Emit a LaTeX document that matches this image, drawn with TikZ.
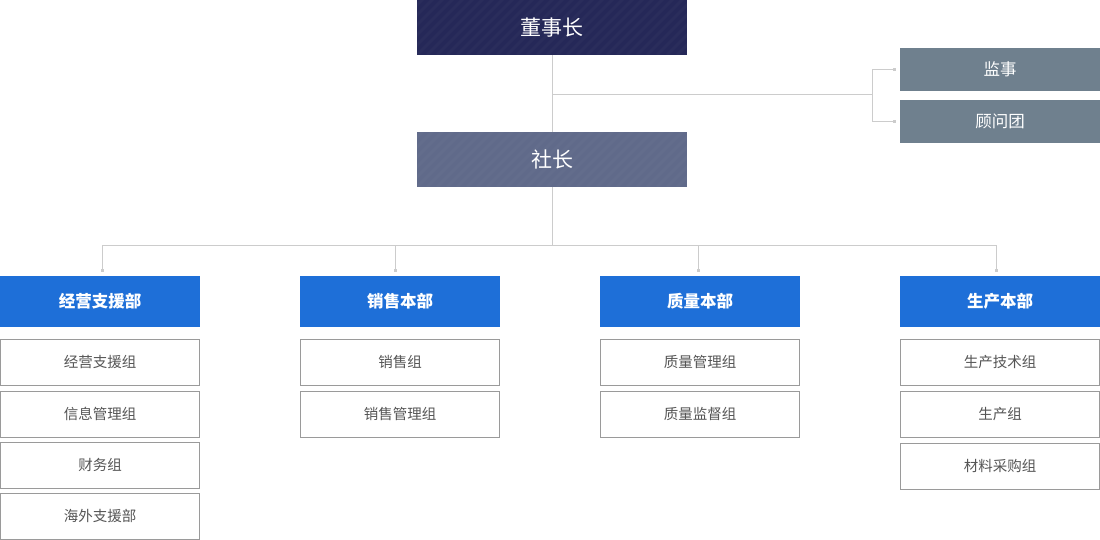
\documentclass[tikz,border=0pt]{standalone}
\usepackage{fontspec}
\setmainfont{Noto Sans CJK SC}
\usetikzlibrary{arrows.meta}
\definecolor{orgnavy}{HTML}{252858}
\definecolor{orgslate}{HTML}{606A8A}
\definecolor{orggrey}{HTML}{6F808E}
\definecolor{orgblue}{HTML}{1E6FD8}
\definecolor{orgline}{HTML}{CCCCCC}
\definecolor{orgedge}{HTML}{9A9A9A}
\definecolor{orgtext}{HTML}{555555}

\begin{document}
\begin{tikzpicture}[x=1pt,y=-1pt,
    topbox/.style={minimum width=270pt,minimum height=55pt,inner sep=0pt,text=white,
      font=\fontsize{21}{24}\selectfont,
      path picture={\foreach \i in {-60,-50,...,280}
        \draw[white,opacity=0.025,line width=3pt]
          ([xshift=\i pt]path picture bounding box.south west) -- ++(60,-60);}},
    sidebox/.style={fill=orggrey,minimum width=200pt,minimum height=43pt,inner sep=0pt,
      text=white,font=\fontsize{16.5}{20}\selectfont},
    headbox/.style={fill=orgblue,minimum width=200pt,minimum height=51pt,inner sep=0pt,
      text=white,font=\fontsize{16.5}{20}\selectfont\bfseries},
    teambox/.style={draw=orgedge,fill=white,minimum width=199pt,minimum height=46pt,inner sep=0pt,
      text=orgtext,font=\fontsize{14.5}{18}\selectfont},
    conn/.style={orgline,line width=1pt},
    tipped/.style={conn,-{Square[length=3pt,width=3pt]},shorten >=4pt}]
    \useasboundingbox (0,0) rectangle (1100,540);
    % top of the chart
    \node[topbox,fill=orgnavy] (chair) at (552,27.5) {董事长};
    \node[topbox,fill=orgslate] (pres) at (552,159.5) {社长};
    \node[sidebox] (audit) at (1000,69.5) {监事};
    \node[sidebox] (advice) at (1000,121.5) {顾问团};
    \coordinate (split) at (872,95);
    \draw[conn] (chair.south) -- (pres.north);
    \draw[conn] (chair.south |- split) -- (split);
    \draw[tipped] (split) |- (audit.west);
    \draw[tipped] (split) |- (advice.west);
    % departments
    \node[headbox] (mgmt) at (100,301.5) {经营支援部};
    \node[headbox] (sales) at (400,301.5) {销售本部};
    \node[headbox] (qual) at (700,301.5) {质量本部};
    \node[headbox] (prod) at (1000,301.5) {生产本部};
    \coordinate (bus) at (552,245);
    \draw[conn] (pres.south) -- (bus);
    \draw[conn] ([xshift=2pt]mgmt.north |- bus) -- ([xshift=-4pt]prod.north |- bus);
    \foreach \d/\dx in {mgmt/2,sales/-5,qual/-2,prod/-4}
      \draw[tipped] ([xshift=\dx pt]\d.north |- bus) -- ([xshift=\dx pt]\d.north);
    % teams
    \node[teambox] (m1) at (100,362) {经营支援组};
    \node[teambox] (m2) at (100,414) {信息管理组};
    \node[teambox] (m3) at (100,465) {财务组};
    \node[teambox] (m4) at (100,516) {海外支援部};
    \node[teambox] (s1) at (400,362) {销售组};
    \node[teambox] (s2) at (400,414) {销售管理组};
    \node[teambox] (q1) at (700,362) {质量管理组};
    \node[teambox] (q2) at (700,414) {质量监督组};
    \node[teambox] (p1) at (1000,362) {生产技术组};
    \node[teambox] (p2) at (1000,414) {生产组};
    \node[teambox] (p3) at (1000,466) {材料采购组};
\end{tikzpicture}
\end{document}
